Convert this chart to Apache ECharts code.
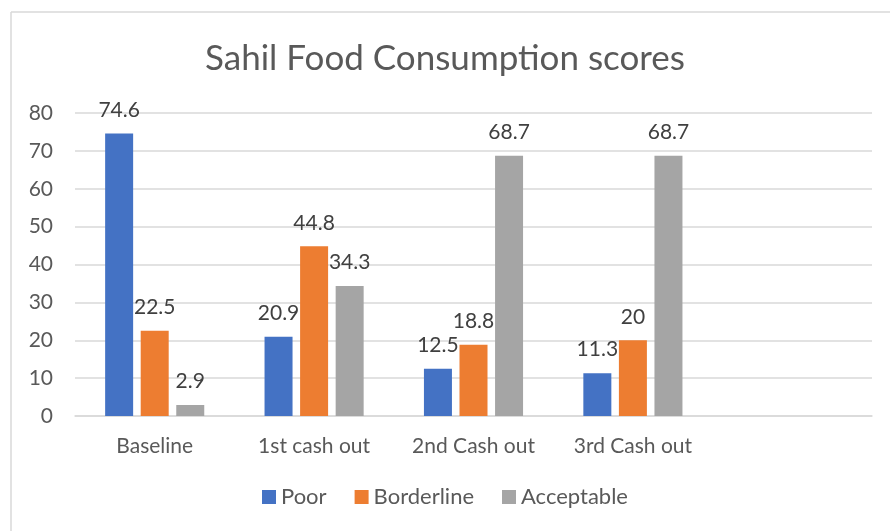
<!DOCTYPE html>
<html>
<head>
<meta charset="utf-8">
<script src="https://cdn.jsdelivr.net/npm/echarts@6/dist/echarts.min.js"></script>
<style>
  html, body { margin: 0; padding: 0; background: #fff; }
  #chart { width: 890px; height: 531px; }
</style>
</head>
<body>
<div id="chart"></div>
<script>
// categories (last one is empty in the source chart)
const categories = ['Baseline', '1st cash out', '2nd Cash out', '3rd Cash out', ''];
const poor = [74.6, 20.9, 12.5, 11.3, null];
const borderline = [22.5, 44.8, 18.8, 20, null];
const acceptable = [2.9, 34.3, 68.7, 68.7, null];
const seriesNames = ['Poor', 'Borderline', 'Acceptable'];
const colors = ['#4472c4', '#ed7d31', '#a5a5a5'];

const chartDom = document.getElementById('chart');
const myChart = echarts.init(chartDom);
const font = "Lato, 'Open Sans', sans-serif";

const label = {
  show: true,
  position: 'top',
  distance: 13,
  color: '#404040',
  fontSize: 21,
  fontFamily: font
};

const option = {
  animation: false,
  color: colors,
  title: {
    text: 'Sahil Food Consumption scores',
    left: 'center',
    top: 36,
    textStyle: { color: '#595959', fontSize: 35, fontWeight: 'normal', fontFamily: font }
  },
  legend: {
    bottom: 18,
    left: 'center',
    itemWidth: 14,
    itemHeight: 14,
    itemGap: 28,
    icon: 'rect',
    textStyle: { color: '#595959', fontSize: 22, fontFamily: font }
  },
  grid: { left: 75, right: 18, top: 113, bottom: 115 },
  xAxis: {
    type: 'category',
    data: categories,
    axisTick: { show: false },
    axisLine: { lineStyle: { color: '#d9d9d9', width: 1.5 } },
    axisLabel: { color: '#595959', fontSize: 21, fontFamily: font, margin: 20, interval: 0 }
  },
  yAxis: {
    type: 'value',
    min: 0,
    max: 80,
    interval: 10,
    axisLine: { show: false },
    axisTick: { show: false },
    splitLine: { lineStyle: { color: '#d9d9d9', width: 1.5 } },
    axisLabel: { color: '#595959', fontSize: 21, fontFamily: font, margin: 22 }
  },
  graphic: [
    { type: 'line', shape: { x1: 11, y1: 12, x2: 11, y2: 531 }, style: { stroke: '#d9d9d9', lineWidth: 1.5 } },
    { type: 'line', shape: { x1: 11, y1: 12, x2: 890, y2: 12 }, style: { stroke: '#d9d9d9', lineWidth: 1.5 } }
  ],
  series: [
    { name: seriesNames[0], type: 'bar', data: poor, barWidth: 28, barGap: '27%', label: label },
    { name: seriesNames[1], type: 'bar', data: borderline, barWidth: 28, barGap: '27%', label: label },
    { name: seriesNames[2], type: 'bar', data: acceptable, barWidth: 28, barGap: '27%', label: label }
  ]
};

option && myChart.setOption(option);
</script>
</body>
</html>
